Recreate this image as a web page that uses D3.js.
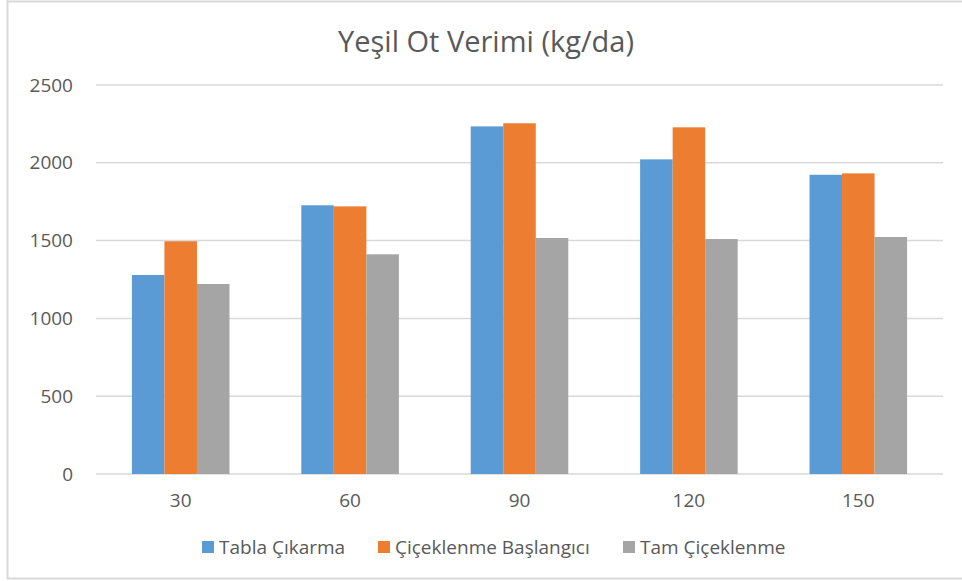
<!DOCTYPE html>
<html>
<head>
<meta charset="utf-8">
<script src="https://cdn.jsdelivr.net/npm/d3@7"></script>
<style>
  body { margin: 0; background: #fff; }
  text { font-family: "Open Sans", sans-serif; fill: #595959; }
</style>
</head>
<body>
<svg id="chart"></svg>
<script>
// Data
var categories = ["30", "60", "90", "120", "150"];
var seriesNames = ["Tabla Çıkarma", "Çiçeklenme Başlangıcı", "Tam Çiçeklenme"];
var tablaCikarma = [1279, 1727, 2234, 2022, 1923];
var ciceklenmeBaslangici = [1496, 1720, 2254, 2228, 1932];
var tamCiceklenme = [1221, 1412, 1517, 1510, 1523];
var yTicks = [0, 500, 1000, 1500, 2000, 2500];
var colors = ["#5B9BD5", "#ED7D31", "#A5A5A5"];

var seriesValues = [tablaCikarma, ciceklenmeBaslangici, tamCiceklenme];

var width = 962, height = 581;
var svg = d3.select("#chart").attr("width", width).attr("height", height);

// chart frame
svg.append("path")
    .attr("d", "M7.5,0 V578.5 H962 M7.5,1.5 H962")
    .attr("fill", "none")
    .attr("stroke", "#D9D9D9")
    .attr("stroke-width", 2);

var plotLeft = 96, plotRight = 943, plotTop = 85, plotBottom = 474;

var x = d3.scaleBand().domain(categories).range([plotLeft, plotRight])
    .paddingInner(0.424).paddingOuter(0.212);
var xs = d3.scaleBand().domain(d3.range(seriesNames.length)).range([0, x.bandwidth()]);
var y = d3.scaleLinear().domain([0, 2500]).range([plotBottom, plotTop]);

// gridlines
svg.append("g")
    .selectAll("line")
    .data(yTicks)
    .join("line")
    .attr("x1", plotLeft).attr("x2", plotRight)
    .attr("y1", d => y(d)).attr("y2", d => y(d))
    .attr("stroke", "#D9D9D9")
    .attr("stroke-width", 1.5);

// y labels
svg.append("g")
    .selectAll("text")
    .data(yTicks)
    .join("text")
    .attr("x", 73)
    .attr("y", d => y(d))
    .attr("dy", "0.35em")
    .attr("text-anchor", "end")
    .style("font-size", "19px")
    .text(d => d);

// bars
var groups = svg.append("g")
    .selectAll("g")
    .data(categories)
    .join("g")
    .attr("transform", d => `translate(${x(d)},0)`);

groups.selectAll("rect")
    .data((d, i) => seriesValues.map((s, j) => ({ j: j, v: s[i] })))
    .join("rect")
    .attr("x", d => xs(d.j))
    .attr("width", xs.bandwidth())
    .attr("y", d => y(d.v))
    .attr("height", d => y(0) - y(d.v))
    .attr("fill", d => colors[d.j]);

// x labels
svg.append("g")
    .selectAll("text")
    .data(categories)
    .join("text")
    .attr("x", d => x(d) + x.bandwidth() / 2)
    .attr("y", 500)
    .attr("dy", "0.35em")
    .attr("text-anchor", "middle")
    .style("font-size", "19px")
    .text(d => d);

// title
svg.append("text")
    .attr("x", 486)
    .attr("y", 42)
    .attr("dy", "0.35em")
    .attr("text-anchor", "middle")
    .style("font-size", "29px")
    .text("Yeşil Ot Verimi (kg/da)");

// legend
var legendX = [202, 378, 623];
var legend = svg.append("g")
    .selectAll("g")
    .data(seriesNames)
    .join("g")
    .attr("transform", (d, i) => `translate(${legendX[i]},547)`);

legend.append("rect")
    .attr("x", 0).attr("y", -6)
    .attr("width", 12).attr("height", 12)
    .attr("fill", (d, i) => colors[i]);

legend.append("text")
    .attr("x", 17)
    .attr("y", 0)
    .attr("dy", "0.35em")
    .style("font-size", "19px")
    .text(d => d);
</script>
</body>
</html>
